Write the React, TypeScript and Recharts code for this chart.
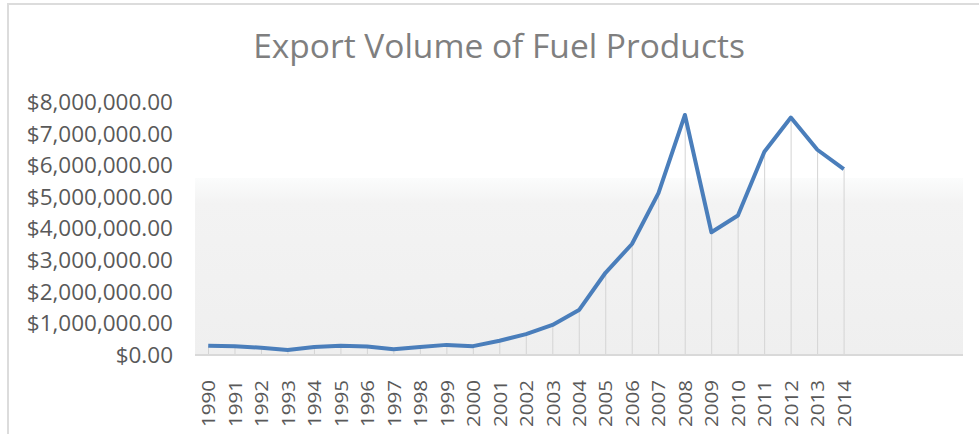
import { ComposedChart, Line, Bar, XAxis, YAxis, CartesianGrid } from "recharts";

// 4 trailing blank categories: the source sheet's axis ran past 2014
const years = [
  "1990", "1991", "1992", "1993", "1994", "1995", "1996", "1997", "1998", "1999",
  "2000", "2001", "2002", "2003", "2004", "2005", "2006", "2007", "2008", "2009",
  "2010", "2011", "2012", "2013", "2014", "", " ", "  ", "   ",
];

const exportVolume = [
  290000, 280000, 230000, 160000, 250000, 290000, 270000, 180000, 250000, 320000,
  280000, 450000, 660000, 950000, 1420000, 2600000, 3510000, 5120000, 7590000, 3880000,
  4410000, 6430000, 7510000, 6490000, 5880000,
];

const yTicks = [0, 1000000, 2000000, 3000000, 4000000, 5000000, 6000000, 7000000, 8000000];

const data = years.map((year, i) => ({
  year,
  value: i < exportVolume.length ? exportVolume[i] : null,
}));

const money = (v: number) =>
  "$" + v.toLocaleString("en-US", { minimumFractionDigits: 2, maximumFractionDigits: 2 });

function YearTick({ x, y, payload }: any) {
  const label = String(payload.value).trim();
  if (!label) return null;
  return (
    <text
      x={0}
      y={0}
      transform={`translate(${x + 7},${y + 17}) rotate(-90)`}
      textAnchor="end"
      fontSize={19}
      fontFamily="Open Sans"
      fill="#595959"
      textLength={47}
      lengthAdjust="spacingAndGlyphs"
    >
      {label}
    </text>
  );
}

export default function App() {
  return (
    <div
      style={{
        position: "fixed",
        left: 0,
        top: 0,
        width: 979,
        height: 434,
        overflow: "hidden",
        background: "#fff",
      }}
    >
      <div
        style={{
          position: "absolute",
          left: 7,
          top: 3,
          width: 1000,
          height: 500,
          border: "2px solid #dcdcdc",
        }}
      />
      <div
        style={{
          position: "absolute",
          left: 0,
          top: 29,
          width: 998,
          textAlign: "center",
          fontFamily: "Open Sans",
          fontSize: 33.5,
          lineHeight: 1,
          color: "#7f7f7f",
        }}
      >
        Export Volume of Fuel Products
      </div>
      <div style={{ position: "absolute", left: 0, top: 0 }}>
        <ComposedChart
          width={979}
          height={434}
          data={data}
          margin={{ top: 102, right: 16, bottom: 0, left: 0 }}
        >
          <defs>
            <linearGradient id="plotBg" x1="0" y1="0" x2="0" y2="1">
              <stop offset="0.3" stopColor="#ffffff" />
              <stop offset="0.3" stopColor="#fbfcfc" />
              <stop offset="0.4" stopColor="#f3f3f3" />
              <stop offset="1" stopColor="#efefef" />
            </linearGradient>
          </defs>
          <CartesianGrid horizontal={false} vertical={false} fill="url(#plotBg)" />
          <XAxis
            dataKey="year"
            interval={0}
            height={79}
            tick={<YearTick />}
            tickLine={false}
            axisLine={{ stroke: "#d9d9d9", strokeWidth: 2 }}
          />
          <YAxis
            type="number"
            domain={[0, 8000000]}
            ticks={yTicks}
            width={195}
            tickFormatter={money}
            tickLine={false}
            axisLine={false}
            tickSize={0}
            tickMargin={22}
            tick={{ fontSize: 22.5, fontFamily: "Open Sans", fill: "#595959" }}
          />
          <Bar dataKey="value" barSize={1} fill="#d4d4d4" isAnimationActive={false} />
          <Line
            type="linear"
            dataKey="value"
            stroke="#4a7ebb"
            strokeWidth={4}
            strokeLinejoin="round"
            dot={false}
            activeDot={false}
            isAnimationActive={false}
          />
        </ComposedChart>
      </div>
    </div>
  );
}
